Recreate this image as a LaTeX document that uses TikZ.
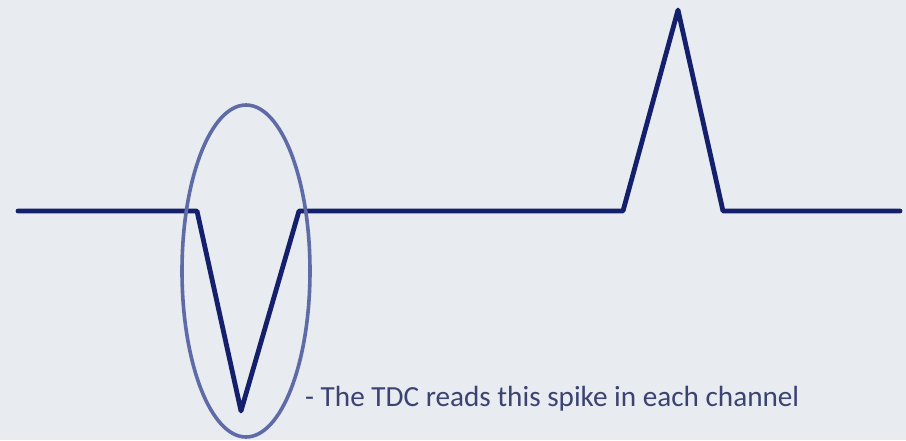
\documentclass[tikz,border=0pt]{standalone}
\usepackage{fontspec}
\setmainfont{Carlito}
\usetikzlibrary{shapes.geometric,positioning}
\definecolor{bgc}{HTML}{E8EBEF}
\definecolor{wave}{HTML}{15206C}
\definecolor{ring}{HTML}{5E6BA6}
\definecolor{note}{HTML}{3B4373}
\tikzset{
  sig/.style={wave,line width=4.8pt,line join=round,line cap=round},
  loop/.style={ellipse,draw=ring,line width=3.6pt,inner sep=0pt},
  lbl/.style={font=\fontsize{29.2}{33}\selectfont,text=note,inner sep=0pt},
}
\begin{document}
\begin{tikzpicture}[x=1pt,y=-1pt]
  \fill[bgc] (0,0) rectangle (906,440);
  \useasboundingbox (0,0) rectangle (906,440);
  % ---------- waveform ----------
  \coordinate (start) at (18,211);
  \coordinate (dipin) at (197,211);
  \coordinate (dipbot) at (241,411);
  \coordinate (dipout) at (299,211);
  \coordinate (pkin) at (623,211);
  \coordinate (pktop) at (678,10);
  \coordinate (pkout) at (723,211);
  \coordinate (stop) at (900,211);
  \draw[sig] (start) -- (dipin) -- (dipbot) -- (dipout) -- (pkin) -- (pktop) -- (pkout) -- (stop);
  % ---------- marked spike ----------
  \node[loop,minimum width=128pt,minimum height=332pt] (ring) at (246,271) {};
  \node[lbl,anchor=base west] (note) at (305,406) {- The TDC reads this spike in each channel};
\end{tikzpicture}
\end{document}
